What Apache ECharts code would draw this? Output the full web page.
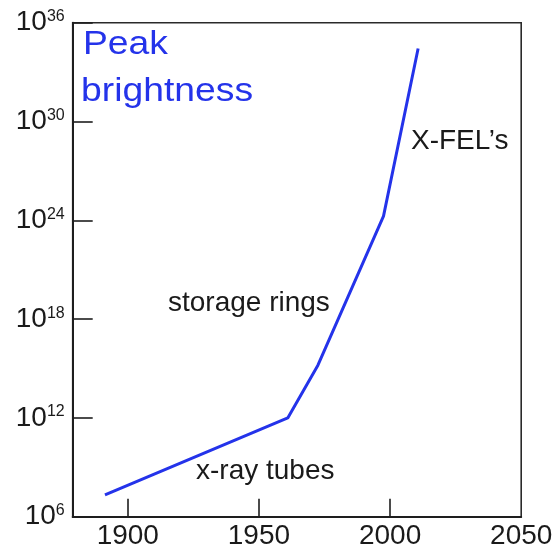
<!DOCTYPE html>
<html>
<head>
<meta charset="utf-8">
<script src="https://cdn.jsdelivr.net/npm/echarts@6/dist/echarts.min.js"></script>
<style>
  html, body { margin: 0; padding: 0; background: #fff; }
  #chart { width: 560px; height: 554px; }
</style>
</head>
<body>
<div id="chart"></div>
<script>
// Peak brightness of X-ray sources over time (log scale)
const years = [1891.3, 1961, 1972.5, 1997.5, 2010.7];
const peakBrightness = [2.1e7, 1e12, 1.6e15, 1.8e24, 2.7e34];

// Axis ticks and labels
const yearTicks = [1900, 1950, 2000];
const yearLabels = [1900, 1950, 2000, 2050];
const brightnessTicks = [1e6, 1e12, 1e18, 1e24, 1e30, 1e36];

// Source-era annotations
const eraNames = ['X-FEL\u2019s', 'storage rings', 'x-ray tubes'];
const titleLines = ['Peak', 'brightness'];

const FONT = '"Liberation Sans", Arial, Helvetica, sans-serif';
const INK = '#1a1a1a';
const BLUE = '#2433ea';

const chart = echarts.init(document.getElementById('chart'), null, { renderer: 'canvas' });

const eraPos = [[411, 141.5], [168, 303], [196, 471.5]];
const titlePos = [[83, 45], [81, 92]];

// a hair of headroom so the 10^36 label survives floating-point rounding of the log extent
const yMax = brightnessTicks[brightnessTicks.length - 1] * 1.0001;

chart.setOption({
  animation: false,
  backgroundColor: '#fff',
  grid: {
    left: 72.7, top: 22.7, right: 38.8, bottom: 37.3,
    show: true, borderColor: '#2a2a2a', borderWidth: 1.6,
    containLabel: false, outerBoundsMode: 'none'
  },
  xAxis: {
    type: 'value', min: 1879, max: 2050,
    splitLine: { show: false },
    axisLine: { lineStyle: { color: '#1e1e1e', width: 2 } },
    axisTick: { inside: true, length: 18, customValues: yearTicks, lineStyle: { color: '#1e1e1e', width: 1.6 } },
    axisLabel: {
      customValues: yearLabels, margin: 6,
      showMinLabel: true, showMaxLabel: true, hideOverlap: false,
      formatter: v => String(v),
      fontSize: 28, fontFamily: FONT, color: INK
    }
  },
  yAxis: {
    type: 'log', logBase: 10, min: brightnessTicks[0], max: yMax,
    splitLine: { show: false },
    minorTick: { show: false },
    axisLine: { lineStyle: { color: '#1e1e1e', width: 2 } },
    axisTick: { inside: true, length: 20, customValues: brightnessTicks, lineStyle: { color: '#1e1e1e', width: 1.6 } },
    axisLabel: {
      customValues: brightnessTicks, margin: 8,
      showMinLabel: true, showMaxLabel: true, hideOverlap: false,
      formatter: v => '{b|10}{s|' + Math.round(Math.log10(v)) + '}',
      rich: {
        b: { fontSize: 28, lineHeight: 28, fontFamily: FONT, color: INK },
        s: { fontSize: 16, lineHeight: 16, fontFamily: FONT, color: INK, verticalAlign: 'top' }
      }
    }
  },
  series: [{
    type: 'line',
    data: years.map((y, i) => [y, peakBrightness[i]]),
    symbol: 'none',
    lineStyle: { color: BLUE, width: 3 },
    z: 3
  }],
  graphic: [
    ...titleLines.map((t, i) => ({
      type: 'text', x: titlePos[i][0], y: titlePos[i][1], scaleX: 1.13,
      style: { text: t, font: '33px ' + FONT, fill: BLUE, textVerticalAlign: 'middle' }
    })),
    ...eraNames.map((t, i) => ({
      type: 'text', x: eraPos[i][0], y: eraPos[i][1],
      style: { text: t, font: '28px ' + FONT, fill: INK, textVerticalAlign: 'middle' }
    }))
  ]
});
</script>
</body>
</html>
